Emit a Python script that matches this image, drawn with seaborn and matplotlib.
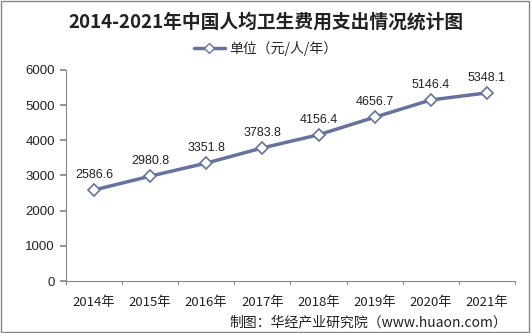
import matplotlib
matplotlib.use("Agg")
import matplotlib.pyplot as plt
import seaborn as sns
import pandas as pd

years = ["2014年", "2015年", "2016年", "2017年", "2018年", "2019年", "2020年", "2021年"]
values = [2586.6, 2980.8, 3351.8, 3783.8, 4156.4, 4656.7, 5146.4, 5348.1]
series_name = "单位（元/人/年）"
title = "2014-2021年中国人均卫生费用支出情况统计图"
source = "制图：华经产业研究院（www.huaon.com）"
yticks = [0, 1000, 2000, 3000, 4000, 5000, 6000]

sns.set_theme(style="white")
plt.rcParams['font.family'] = ['Noto Sans CJK SC', 'DejaVu Sans']

df = pd.DataFrame({"year": years, "value": values, "s": series_name})

fig = plt.figure(figsize=(5.31, 3.33), dpi=100)
ax = fig.add_axes([0.124, 0.156, 0.846, 0.634])
color = "#67739f"
sns.lineplot(data=df, x="year", y="value", ax=ax, color=color, linewidth=2.5,
             marker="D", markersize=6, markerfacecolor="white",
             markeredgecolor=color, markeredgewidth=1.2, sort=False, legend=False)

for i, v in enumerate(values):
    ax.text(i, v + 250, f"{v:.1f}", ha="center", va="bottom", fontsize=9,
            family=['Liberation Sans', 'DejaVu Sans'], color="#222222")

ax.set_xlim(-0.5, len(years) - 0.5)
ax.set_ylim(0, 6000)
ax.set_yticks(yticks)
ax.set_yticklabels([str(t) for t in yticks], fontsize=9.5, family=['Liberation Sans', 'DejaVu Sans'],
                   color="#222222")
ax.set_xticks(range(len(years)))
ax.set_xticklabels(years, fontsize=9.5, color="#222222")
ax.set_xlabel("")
ax.set_ylabel("")
for s in ["top", "right"]:
    ax.spines[s].set_visible(False)
for s in ["left", "bottom"]:
    ax.spines[s].set_color("#888888")
    ax.spines[s].set_linewidth(0.8)
ax.tick_params(axis="y", left=True, length=4, color="#888888", pad=4)
ax.tick_params(axis="x", bottom=False, pad=5)
# category boundary ticks
for b in range(len(years) + 1):
    ax.plot([b - 0.5, b - 0.5], [0, -0.012], transform=ax.get_xaxis_transform(),
            color="#888888", lw=0.8, clip_on=False)

fig.text(0.5, 0.935, title, ha="center", va="center", fontsize=13.5, fontweight="bold",
         color="#222222")
# legend
from matplotlib.lines import Line2D
h = Line2D([], [], color=color, lw=2.5, marker="D", markersize=5,
           markerfacecolor="white", markeredgecolor=color)
fig.legend([h], [series_name], loc="center", bbox_to_anchor=(0.5, 0.855),
           frameon=False, fontsize=10, handlelength=2.2, handletextpad=0.3)

fig.text(0.955, 0.032, source, ha="right", va="center", fontsize=10, color="#222222")

border = plt.Rectangle((0.002, 0.003), 0.995, 0.994, transform=fig.transFigure,
                       fill=False, edgecolor="#888888", lw=1)
fig.patches.append(border)

fig.savefig("out.png", dpi=100)
